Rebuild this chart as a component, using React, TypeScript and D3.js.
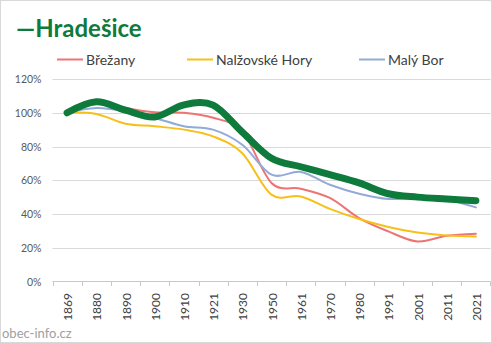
import React from "react";
import * as d3 from "d3";

const years = ["1869","1880","1890","1900","1910","1921","1930","1950","1961","1970","1980","1991","2001","2011","2021"];
const hradesice = [1.0, 1.065, 1.015, 0.975, 1.047, 1.045, 0.885, 0.73, 0.68, 0.633, 0.584, 0.52, 0.50, 0.489, 0.479];
const brezany = [1.0, 1.074, 1.028, 1.003, 1.0, 0.97, 0.89, 0.584, 0.55, 0.495, 0.376, 0.297, 0.237, 0.271, 0.283];
const nalzovske = [1.0, 0.993, 0.935, 0.92, 0.90, 0.86, 0.76, 0.515, 0.504, 0.43, 0.37, 0.323, 0.29, 0.273, 0.267];
const malyBor = [1.0, 1.028, 1.008, 0.969, 0.92, 0.90, 0.81, 0.633, 0.649, 0.573, 0.52, 0.489, 0.496, 0.485, 0.439];
const yTicks = [0, 0.2, 0.4, 0.6, 0.8, 1.0, 1.2];

const title = "—Hradešice";
const legendItems = [
  { name: "Břežany", color: "#EE7474", x: 57 },
  { name: "Nalžovské Hory", color: "#F6C019", x: 187 },
  { name: "Malý Bor", color: "#92ABD6", x: 359 },
];

const W = 492, H = 343;
const FONT = "Lato, 'Open Sans', sans-serif";

export default function App() {
  const x = d3.scaleBand().domain(years).range([52.5, 490.5]);
  const y = d3.scaleLinear().domain([0, 1.2]).range([281.5, 79]);
  const cx = (i: number) => (x(years[i]) as number) + x.bandwidth() / 2;
  const line = d3
    .line<number>()
    .x((_, i) => cx(i))
    .y((d) => y(d))
    .curve(d3.curveCardinal.tension(0));

  const series = [
    { data: brezany, color: "#EE7474", w: 2 },
    { data: nalzovske, color: "#F6C019", w: 2 },
    { data: malyBor, color: "#92ABD6", w: 2 },
  ];

  return (
    <svg
      width={W}
      height={H}
      style={{ position: "fixed", left: 0, top: 0, background: "#fff" }}
      fontFamily={FONT}
    >
      <rect x={0.5} y={0.5} width={W - 1} height={H - 1} fill="#fff" stroke="#d9d9d9" />
      <text x={16} y={37} fontSize={24} fontWeight="bold" fill="#0E7A3B">{title}</text>
      {legendItems.map((l) => (
        <g key={l.name}>
          <line x1={l.x} x2={l.x + 26} y1={59.5} y2={59.5} stroke={l.color} strokeWidth={2} />
          <text x={l.x + 29} y={64.5} fontSize={14} fill="#404040">{l.name}</text>
        </g>
      ))}
      {yTicks.map((t) => (
        <g key={t}>
          {t > 0 && (
            <line x1={52.5} x2={490.5} y1={Math.round(y(t)) + 0.5} y2={Math.round(y(t)) + 0.5} stroke="#d9d9d9" />
          )}
          <text x={41.5} y={y(t) + 4} fontSize={10.5} textAnchor="end" fill="#595959">
            {d3.format(".0%")(t)}
          </text>
        </g>
      ))}
      <line x1={52.5} x2={490.5} y1={281.5} y2={281.5} stroke="#c8c8c8" />
      {years.map((yr, i) => (
        <line key={"t" + yr} x1={Math.round(x(yr) as number) + 0.5} x2={Math.round(x(yr) as number) + 0.5} y1={281.5} y2={286} stroke="#c8c8c8" />
      ))}
      <line x1={490.5} x2={490.5} y1={281.5} y2={286} stroke="#c8c8c8" />
      {years.map((yr, i) => (
        <text
          key={yr}
          transform={`translate(${cx(i) + 5},${293}) rotate(-90)`}
          textAnchor="end"
          fontSize={12}
          fill="#404040"
        >
          {yr}
        </text>
      ))}
      {series.map((s, k) => (
        <path key={k} d={line(s.data) || ""} fill="none" stroke={s.color} strokeWidth={s.w} strokeLinejoin="round" strokeLinecap="round" />
      ))}
      <path d={line(hradesice) || ""} fill="none" stroke="#0E7A3B" strokeWidth={7} strokeLinejoin="round" strokeLinecap="round" />
      <text x={2} y={338} fontSize={13} fill="#a0a0a0">obec-info.cz</text>
    </svg>
  );
}
